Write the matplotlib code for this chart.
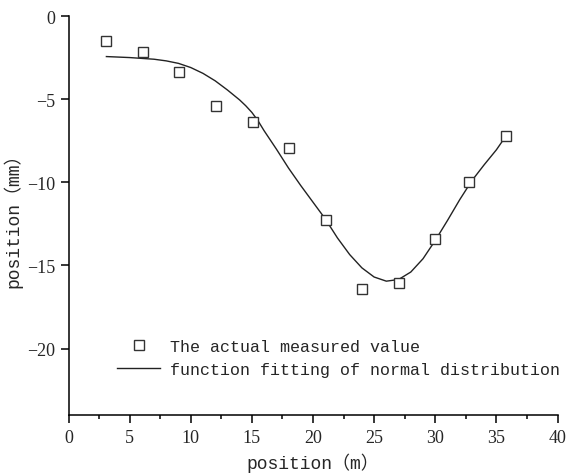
import numpy as np
import matplotlib
matplotlib.use("Agg")
import matplotlib.pyplot as plt

# measured points
x_meas = [3.1, 6.1, 9.0, 12.1, 15.1, 18.0, 21.1, 24.0, 27.0, 30.0, 32.8, 35.8]
y_meas = [-1.5, -2.16, -3.36, -5.41, -6.37, -7.93, -12.25, -16.4, -16.04, -13.4, -9.97, -7.21]

# fitted curve
x_fit = [3.1, 5.0, 7.0, 8.0, 9.0, 10.0, 11.0, 12.0, 13.0, 14.0, 14.5, 15.0,
         15.5, 16.0, 16.5, 17.0, 18.0, 19.0, 20.0, 21.0, 22.0, 23.0, 24.0,
         25.0, 26.0, 27.0, 28.0, 29.0, 30.0, 31.0, 32.0, 33.0, 34.0, 35.0, 35.8]
y_fit = [-2.44, -2.5, -2.6, -2.7, -2.85, -3.1, -3.45, -3.9, -4.45, -5.05,
         -5.4, -5.8, -6.3, -6.9, -7.45, -8.0, -9.15, -10.2, -11.2, -12.2,
         -13.35, -14.35, -15.15, -15.7, -15.95, -15.85, -15.4, -14.6, -13.5,
         -12.3, -11.05, -9.9, -8.95, -8.05, -7.2]

x_ticks = [0, 5, 10, 15, 20, 25, 30, 35, 40]
y_ticks = [0, -5, -10, -15, -20]

TXT = ["Liberation Mono", "Noto Sans CJK SC"]
TICK = ["Liberation Serif", "DejaVu Serif"]
INK = "#262626"

fig = plt.figure(figsize=(5.67, 4.77), dpi=100)
ax = fig.add_axes([68.5 / 567, 1 - 416 / 477, 489 / 567, 399 / 477])

ax.plot(x_meas, y_meas, linestyle="none", marker="s", markersize=6.5,
        markerfacecolor="white", markeredgecolor="#333333", markeredgewidth=1.0,
        label="The actual measured value", zorder=3)
ax.plot(x_fit, y_fit, color="#222222", linewidth=1.0,
        label="function fitting of normal distribution")

ax.set_xlim(0, 40)
ax.set_ylim(-24, 0)
ax.set_xticks(x_ticks)
ax.set_yticks(y_ticks)
ax.set_xticks(np.arange(2.5, 40, 5), minor=True)
ax.set_xticklabels([str(v) for v in x_ticks], family=TICK, fontsize=13, color=INK)
ax.set_yticklabels([str(v).replace("-", "\u2212") for v in y_ticks],
                   family=TICK, fontsize=13, color=INK)

for side in ("top", "right"):
    ax.spines[side].set_visible(False)
for side in ("left", "bottom"):
    ax.spines[side].set_linewidth(1.1)
ax.tick_params(which="major", direction="out", length=5.8, width=1.1, pad=4)
ax.tick_params(which="minor", direction="out", length=2.9, width=1.1)

ax.set_xlabel("position\uff08m\uff09", family=TXT, fontsize=13, labelpad=5, color=INK)
ax.set_ylabel("position\uff08mm\uff09", family=TXT, fontsize=13, labelpad=3, color=INK)

leg = ax.legend(loc="upper left", bbox_to_anchor=(0.099, 0.19), frameon=False,
                prop={"family": TXT, "size": 12}, handlelength=2.6,
                handletextpad=0.6, labelspacing=0.45, borderpad=0, borderaxespad=0)
for t in leg.get_texts():
    t.set_color(INK)

fig.savefig("out.png", dpi=100)
